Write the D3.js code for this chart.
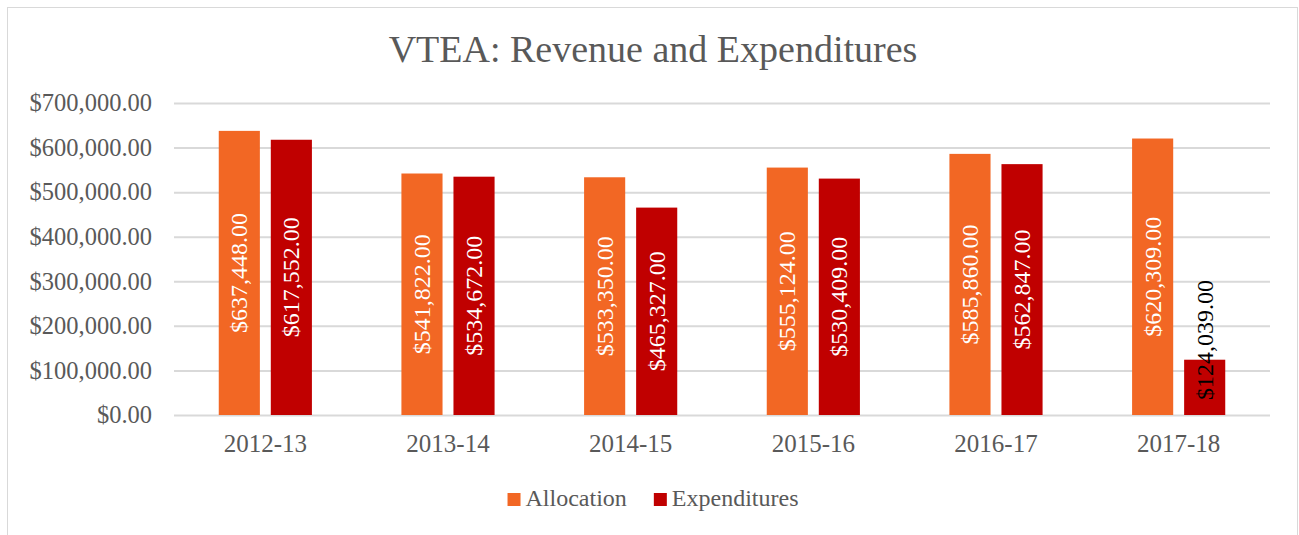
<!DOCTYPE html>
<html>
<head>
<meta charset="utf-8">
<script src="https://cdn.jsdelivr.net/npm/d3@7"></script>
<style>
  body { margin: 0; background: #fff; }
</style>
</head>
<body>
<div id="chart"></div>
<script>
// data
const years = ['2012-13', '2013-14', '2014-15', '2015-16', '2016-17', '2017-18'];
const seriesNames = ['Allocation', 'Expenditures'];
const allocation = [637448, 541822, 533350, 555124, 585860, 620309];
const expenditures = [617552, 534672, 465327, 530409, 562847, 124039];
const yTicks = [0, 100000, 200000, 300000, 400000, 500000, 600000, 700000];

class Chart {
    constructor() {
        const attrs = {
            container: '#chart',
            svgWidth: 1299,
            svgHeight: 535,
            marginTop: 103,
            marginLeft: 174,
            marginRight: 29,
            marginBottom: 120,
            colors: {
                grid: '#D9D9D9',
                text: '#595959',
                series: ['#F26724', '#C00000']
            },
            defaultFont: '"Liberation Serif", "DejaVu Serif", serif'
        };
        this.getState = () => attrs;
        this.setState = (d) => Object.assign(attrs, d);
    }

    render() {
        this.drawSvgAndWrappers();
        this.drawAxes();
        this.drawBars();
        this.drawLegend();
        return this;
    }

    drawSvgAndWrappers() {
        const { container, svgWidth, svgHeight, defaultFont, marginLeft, marginTop, marginRight, marginBottom, colors } = this.getState();
        const chartWidth = svgWidth - marginLeft - marginRight;
        const chartHeight = svgHeight - marginTop - marginBottom;

        const svg = d3.select(container).append('svg')
            .attr('width', svgWidth)
            .attr('height', svgHeight)
            .attr('font-family', defaultFont);

        // outer frame
        svg.append('rect')
            .attr('x', 7.5).attr('y', 7.5)
            .attr('width', 1290).attr('height', 540)
            .attr('fill', 'white')
            .attr('stroke', colors.grid);

        svg.append('text')
            .attr('x', 653).attr('y', 62)
            .attr('text-anchor', 'middle')
            .attr('font-size', 38)
            .attr('fill', colors.text)
            .text('VTEA: Revenue and Expenditures');

        const chart = svg.append('g')
            .attr('transform', `translate(${marginLeft},${marginTop})`);

        this.setState({ svg, chart, chartWidth, chartHeight });
    }

    drawAxes() {
        const { chart, chartWidth, chartHeight, colors } = this.getState();

        const scaleY = d3.scaleLinear()
            .domain([0, d3.max(yTicks)])
            .range([chartHeight, 0]);

        const scaleX = d3.scaleBand()
            .domain(years)
            .range([0, chartWidth])
            .paddingInner(0.49)
            .paddingOuter(0.245);

        const yAxis = d3.axisLeft(scaleY)
            .tickValues(yTicks)
            .tickFormat(d => '$' + d3.format(',.2f')(d))
            .tickSize(-chartWidth)
            .tickPadding(22);

        const yWrap = chart.append('g').call(yAxis)
            .attr('font-family', null)
            .attr('font-size', null);
        yWrap.select('.domain').remove();
        yWrap.selectAll('.tick line').attr('stroke', colors.grid).attr('stroke-width', 2);
        yWrap.selectAll('text')
            .attr('font-size', 24.5)
            .attr('fill', colors.text);

        const xAxis = d3.axisBottom(scaleX).tickSize(0).tickPadding(19);
        const xWrap = chart.append('g')
            .attr('transform', `translate(0,${chartHeight})`)
            .call(xAxis)
            .attr('font-family', null)
            .attr('font-size', null);
        xWrap.select('.domain').remove();
        xWrap.selectAll('text')
            .attr('font-size', 25)
            .attr('fill', colors.text);

        this.setState({ scaleX, scaleY });
    }

    drawBars() {
        const { chart, scaleX, scaleY, colors, chartHeight } = this.getState();
        const values = [allocation, expenditures];

        const scaleInner = d3.scaleBand()
            .domain(seriesNames)
            .range([0, scaleX.bandwidth()])
            .paddingInner(0.21);

        const rows = years.map((year, i) => ({
            year,
            items: seriesNames.map((name, s) => ({ name, s, value: values[s][i] }))
        }));

        const groups = chart.selectAll('.bar-group')
            .data(rows)
            .join('g')
            .attr('class', 'bar-group')
            .attr('transform', d => `translate(${scaleX(d.year)},0)`);

        const items = groups.selectAll('.bar-item')
            .data(d => d.items)
            .join('g')
            .attr('class', 'bar-item');

        items.append('rect')
            .attr('x', d => scaleInner(d.name))
            .attr('y', d => scaleY(d.value))
            .attr('width', scaleInner.bandwidth())
            .attr('height', d => chartHeight - scaleY(d.value))
            .attr('fill', d => colors.series[d.s]);

        items.append('text')
            .attr('font-size', 24)
            .attr('dominant-baseline', 'central')
            .text(d => '$' + d3.format(',.2f')(d.value))
            .each(function (d) {
                const len = this.getComputedTextLength();
                const h = chartHeight - scaleY(d.value);
                const cx = scaleInner(d.name) + scaleInner.bandwidth() / 2;
                const el = d3.select(this);
                if (len < h - 6) {
                    const cy = scaleY(d.value) + h / 2;
                    el.attr('text-anchor', 'middle')
                        .attr('fill', 'white')
                        .attr('transform', `translate(${cx},${cy}) rotate(-90)`);
                } else {
                    // label does not fit: start near base and run upward
                    el.attr('text-anchor', 'start')
                        .attr('fill', 'black')
                        .attr('transform', `translate(${cx},${chartHeight - 15}) rotate(-90)`);
                }
            });
    }

    drawLegend() {
        const { svg, colors } = this.getState();
        const legend = svg.append('g');
        let x = 0;
        seriesNames.forEach((name, i) => {
            legend.append('rect')
                .attr('x', x).attr('y', 493)
                .attr('width', 13).attr('height', 13)
                .attr('fill', colors.series[i]);
            const t = legend.append('text')
                .attr('x', x + 18).attr('y', 506)
                .attr('font-size', 24)
                .attr('fill', colors.text)
                .text(name);
            x += 18 + t.node().getComputedTextLength() + 27;
        });
        const w = x - 27;
        legend.attr('transform', `translate(${653 - w / 2},0)`);
    }
}

new Chart().render();
</script>
</body>
</html>
